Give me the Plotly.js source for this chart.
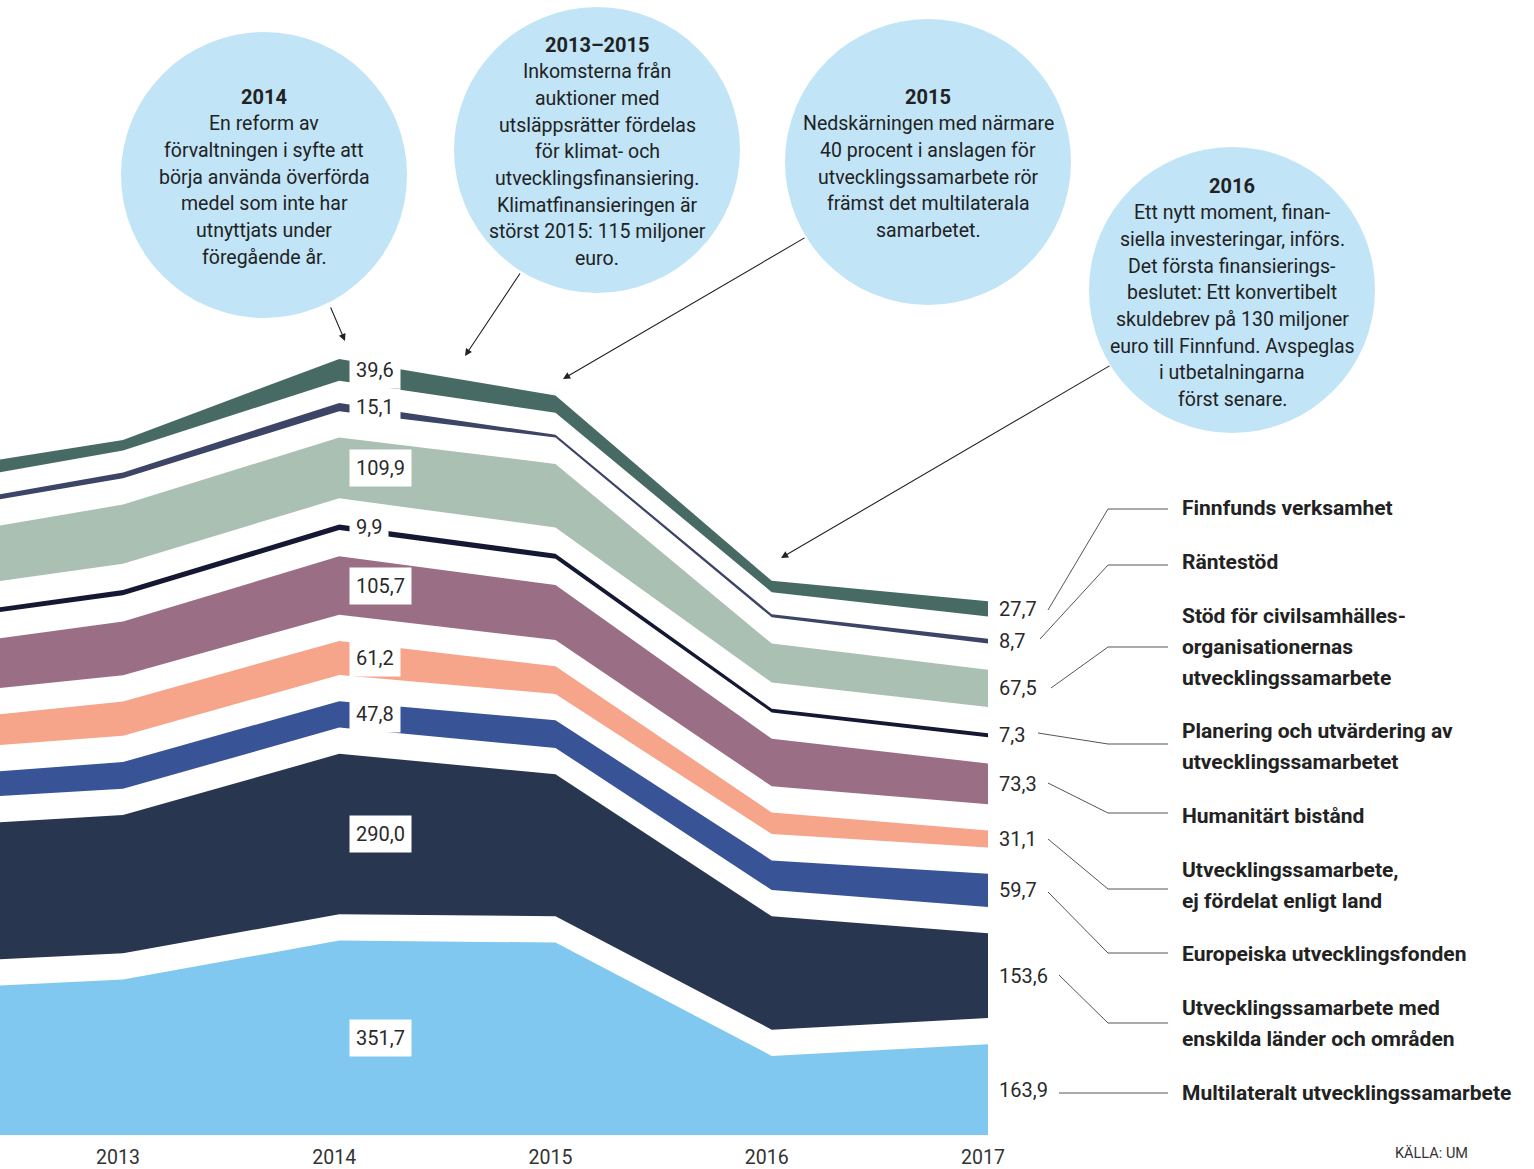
<!DOCTYPE html>
<html>
<head>
<meta charset="utf-8">
<script src="https://cdn.plot.ly/plotly-3.0.1.min.js"></script>
<style>html,body{margin:0;padding:0;background:#fff;}#chart{width:1534px;height:1169px;}</style>
</head>
<body>
<div id="chart"></div>
<script>
// ---------- DATA (miljoner euro) ----------
const years = [2012, 2013, 2014, 2015, 2016, 2017];
const tickYears = [2013, 2014, 2015, 2016, 2017];
const tickLabels = ['2013', '2014', '2015', '2016', '2017'];

const multilateralt = [262, 281, 351.7, 348, 143, 163.9];
const bilateralt   = [246, 250, 290.0, 257, 205, 153.6];
const euf          = [42.3, 48.5, 47.8, 50, 53.6, 59.7];
const ejFordelat   = [50.2, 62, 61.2, 50, 39, 31.1];
const humanitart   = [84.7, 97, 105.7, 99.6, 86, 73.3];
const planering    = [7.7, 9.5, 9.9, 9, 6.5, 7.3];
const civilsamh    = [95.4, 107, 109.9, 115, 70.5, 67.5];
const rantestod    = [7.9, 10.5, 15.1, 5, 5.5, 8.7];
const finnfund     = [25.7, 19, 39.6, 31, 20.5, 27.7];

const seriesNames = [
  'Multilateralt utvecklingssamarbete',
  'Utvecklingssamarbete med enskilda länder och områden',
  'Europeiska utvecklingsfonden',
  'Utvecklingssamarbete, ej fördelat enligt land',
  'Humanitärt bistånd',
  'Planering och utvärdering av utvecklingssamarbetet',
  'Stöd för civilsamhällesorganisationernas utvecklingssamarbete',
  'Räntestöd',
  'Finnfunds verksamhet'
];
const legendLines = [
  ['Multilateralt utvecklingssamarbete'],
  ['Utvecklingssamarbete med', 'enskilda länder och områden'],
  ['Europeiska utvecklingsfonden'],
  ['Utvecklingssamarbete,', 'ej fördelat enligt land'],
  ['Humanitärt bistånd'],
  ['Planering och utvärdering av', 'utvecklingssamarbetet'],
  ['Stöd för civilsamhälles-', 'organisationernas', 'utvecklingssamarbete'],
  ['Räntestöd'],
  ['Finnfunds verksamhet']
];
const seriesValues = [multilateralt, bilateralt, euf, ejFordelat, humanitart, planering, civilsamh, rantestod, finnfund];

// ---------- STYLE ----------
const colors = ['#80c8ef', '#29364f', '#385396', '#f6a48a', '#9a6f86', '#141833', '#aac0b3', '#3d4566', '#476b64'];
const GAPS = [47.5, 47.5, 47.5, 47.5, 47.5, 47.5, 47.5, 40]; // white spacing between layers
const FONT = 'Roboto, "Liberation Sans", sans-serif';
const W = 1534, H = 1169, PLOT_BOTTOM = 1135;
const PX_PER_YEAR = 216.25, PX_PER_UNIT = 0.553;
const X0 = 2013 - 123 / PX_PER_YEAR;
const X1 = X0 + W / PX_PER_YEAR;
const PX = x => x / W;
const PY = y => (PLOT_BOTTOM - y) / PLOT_BOTTOM;

// ---------- TRACES ----------
const traces = [];
seriesValues.forEach((vals, i) => {
  traces.push({
    type: 'scatter', mode: 'lines', x: years, y: vals, name: seriesNames[i],
    stackgroup: 'a', line: {width: 0, color: colors[i]}, fillcolor: colors[i],
    hoverinfo: 'skip'
  });
  if (i < GAPS.length) {
    traces.push({
      type: 'scatter', mode: 'lines', x: years, y: years.map(() => GAPS[i]),
      stackgroup: 'a', line: {width: 0}, fillcolor: 'rgba(0,0,0,0)',
      hoverinfo: 'skip', showlegend: false
    });
  }
});

// ---------- ANNOTATIONS ----------
const fmt = v => v.toFixed(1).replace('.', ',');
const annotations = [];
const shapes = [];

function stackMid(idx, s) {
  let base = 0;
  for (let k = 0; k < s; k++) base += seriesValues[k][idx] + GAPS[k];
  return base + seriesValues[s][idx] / 2;
}
const i2014 = years.indexOf(2014), i2017 = years.indexOf(2017);
seriesValues.forEach((vals, s) => {
  annotations.push({
    x: 2014, y: stackMid(i2014, s), xref: 'x', yref: 'y', xanchor: 'left', yanchor: 'middle',
    xshift: 10, yshift: 0, text: fmt(vals[i2014]), showarrow: false, bgcolor: '#ffffff', borderpad: 6,
    font: {family: FONT, size: 20, color: '#2a2a2a'}
  });
  annotations.push({
    x: 2017, y: stackMid(i2017, s), xref: 'x', yref: 'y', xanchor: 'left', yanchor: 'middle',
    xshift: 9, text: fmt(vals[i2017]), showarrow: false,
    font: {family: FONT, size: 20, color: '#2a2a2a'}
  });
});

// legend text on the right
const legendY = [[1093], [1008, 1039], [954], [870, 901], [816], [731, 762], [616, 647, 678], [562], [508]];
legendLines.forEach((lines, s) => {
  lines.forEach((t, j) => {
    annotations.push({
      x: PX(1180), y: PY(legendY[s][j]), xref: 'paper', yref: 'paper', xanchor: 'left', yanchor: 'middle',
      text: '<b>' + t + '</b>', showarrow: false, font: {family: FONT, size: 21, color: '#222'}
    });
  });
});

// connector lines
const connectors = [
  [[1059,1093],[1168,1093]],
  [[1059,975],[1108,1023],[1168,1023]],
  [[1048,892],[1108,953],[1168,953]],
  [[1048,839],[1108,889],[1168,889]],
  [[1048,783],[1108,813],[1168,813]],
  [[1038,733],[1108,744],[1168,744]],
  [[1051,688],[1108,647],[1168,647]],
  [[1040,639],[1108,565],[1168,565]],
  [[1048,610],[1108,509],[1168,509]]
];
connectors.forEach(pts => {
  const path = pts.map((p, k) => (k ? 'L' : 'M') + PX(p[0]) + ',' + PY(p[1])).join(' ');
  shapes.push({type: 'path', xref: 'paper', yref: 'paper', path: path, line: {color: '#555', width: 1}});
});

// circles with commentary
const bubbles = [
  {cx: 264, cy: 175, r: 143, y0: 97, lines: ['2014', 'En reform av', 'förvaltningen i syfte att', 'börja använda överförda', 'medel som inte har', 'utnyttjats under', 'föregående år.']},
  {cx: 597, cy: 150, r: 143, y0: 45, lines: ['2013–2015', 'Inkomsterna från', 'auktioner med', 'utsläppsrätter fördelas', 'för klimat- och', 'utvecklingsfinansiering.', 'Klimatfinansieringen är', 'störst 2015: 115 miljoner', 'euro.']},
  {cx: 928, cy: 162, r: 143, y0: 97, lines: ['2015', 'Nedskärningen med närmare', '40 procent i anslagen för', 'utvecklingssamarbete rör', 'främst det multilaterala', 'samarbetet.']},
  {cx: 1232, cy: 290, r: 143, y0: 186, lines: ['2016', 'Ett nytt moment, finan-', 'siella investeringar, införs.', 'Det första finansierings-', 'beslutet: Ett konvertibelt', 'skuldebrev på 130 miljoner', 'euro till Finnfund. Avspeglas', 'i utbetalningarna', 'först senare.']}
];
bubbles.forEach(b => {
  shapes.push({
    type: 'circle', xref: 'paper', yref: 'paper', xsizemode: 'pixel', ysizemode: 'pixel',
    xanchor: PX(b.cx), yanchor: PY(b.cy), x0: -b.r, x1: b.r, y0: -b.r, y1: b.r,
    fillcolor: '#c1e4f7', line: {width: 0}, layer: 'below'
  });
  b.lines.forEach((t, j) => {
    annotations.push({
      x: PX(b.cx), y: PY(b.y0 + j * 26.7), xref: 'paper', yref: 'paper', xanchor: 'center', yanchor: 'middle',
      text: j === 0 ? '<b>' + t + '</b>' : t, showarrow: false,
      font: {family: FONT, size: j === 0 ? 20 : 19.5, color: '#222'}
    });
  });
});

// arrows
const arrows = [
  {hx: 345, hy: 341, tx: 330, ty: 306},
  {hx: 465, hy: 356, tx: 521, ty: 272},
  {hx: 563, hy: 379, tx: 806, ty: 237},
  {hx: 781, hy: 558, tx: 1111, ty: 365}
];
arrows.forEach(a => {
  annotations.push({
    x: PX(a.hx), y: PY(a.hy), xref: 'paper', yref: 'paper', text: '', showarrow: true,
    ax: a.tx - a.hx, ay: a.ty - a.hy, arrowhead: 2, arrowsize: 1.3, arrowwidth: 1.1, arrowcolor: '#222', standoff: 0
  });
});

// source
annotations.push({
  x: PX(1431), y: PY(1153), xref: 'paper', yref: 'paper', xanchor: 'center', yanchor: 'middle',
  text: 'KÄLLA: UM', showarrow: false, font: {family: FONT, size: 14.5, color: '#333'}
});

const layout = {
  width: W, height: H,
  margin: {l: 0, r: 0, t: 0, b: H - PLOT_BOTTOM, pad: 0},
  paper_bgcolor: '#ffffff', plot_bgcolor: '#ffffff',
  showlegend: false,
  xaxis: {
    range: [X0, X1], tickvals: tickYears, ticktext: tickLabels, showgrid: false, zeroline: false,
    showline: false, ticks: 'outside', ticklen: 5, tickcolor: 'rgba(0,0,0,0)', ticklabelshift: -5,
    tickfont: {family: FONT, size: 19.5, color: '#333'}, fixedrange: true
  },
  yaxis: {range: [0, PLOT_BOTTOM / PX_PER_UNIT], visible: false, fixedrange: true},
  annotations: annotations,
  shapes: shapes
};

Plotly.newPlot('chart', traces, layout, {staticPlot: true, displayModeBar: false});
</script>
</body>
</html>
